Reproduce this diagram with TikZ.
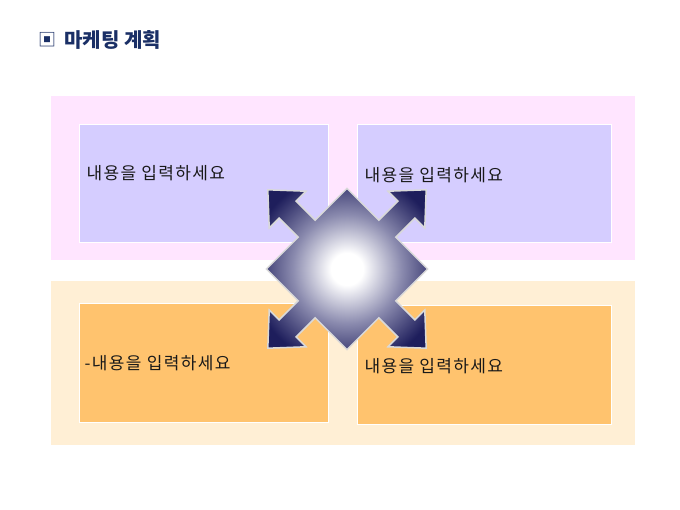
\documentclass[tikz,border=0pt]{standalone}
\usepackage{fontspec}
\setmainfont{Noto Sans CJK KR}
\newfontfamily\bodyfont[LetterSpace=8]{Noto Sans CJK KR}
\usetikzlibrary{positioning}
\definecolor{pinkband}{HTML}{FFE5FF}
\definecolor{creamband}{HTML}{FFEFD5}
\definecolor{lilacbox}{HTML}{D5CDFF}
\definecolor{orangebox}{HTML}{FFC36E}
\definecolor{titlenavy}{HTML}{1A2F66}
\definecolor{arrownavy}{HTML}{1E1E5C}
\definecolor{arrowmid}{HTML}{8A8AAE}
\pgfdeclareradialshading{quadshade}{\pgfpoint{0bp}{0bp}}{%
  color(0bp)=(white); color(5bp)=(white); color(17bp)=(arrowmid);
  color(30bp)=(arrownavy); color(50bp)=(arrownavy)}

\begin{document}
\begin{tikzpicture}[x=1pt,y=-1pt,
		band node/.style={rectangle,minimum width=584pt,minimum height=164pt,inner sep=0pt},
		box node/.style={rectangle,draw=white,line width=1pt,minimum height=118pt,inner sep=0pt},
		text node/.style={anchor=west,inner sep=0pt,text=black!90,font=\bodyfont\fontsize{17}{20}\selectfont}]
	\useasboundingbox[fill=white] (0,0) rectangle (680,510);
	\node[anchor=center,text=titlenavy,font=\fontsize{18}{18}\selectfont] (mark) at (47,40) {▣};
	\node[anchor=west,text=titlenavy,font=\fontsize{20}{22}\selectfont\bfseries] (title) at (61,40) {마케팅 계획};
	\node[band node,fill=pinkband] (top) at (343,178) {};
	\node[band node,fill=creamband] (bottom) at (343,363) {};
	\node[box node,fill=lilacbox,minimum width=249pt] (1) at (203.5,183.5) {};
	\node[box node,fill=lilacbox,minimum width=254pt] (2) at (484,183.5) {};
	\node[box node,fill=orangebox,minimum width=249pt] (3) at (203.5,363) {};
	\node[box node,fill=orangebox,minimum width=254pt] (4) at (484,365) {};
	\node[text node] (t1) at ([xshift=8pt,yshift=10pt]1.west) {내용을 입력하세요};
	\node[text node] (t2) at ([xshift=8pt,yshift=8pt]2.west) {내용을 입력하세요};
	\node[text node] (t3) at ([xshift=6pt,yshift=0pt]3.west) {-내용을 입력하세요};
	\node[text node] (t4) at ([xshift=8pt,yshift=-1pt]4.west) {내용을 입력하세요};
	% four-way arrow
	\begin{scope}[shift={(347,269)},rotate=45]
		\path[shading=quadshade,draw=black!15,line width=1.5pt,line join=miter]
			(57,12) -- (84,12) -- (84,26) -- (112,0) -- (84,-26) -- (84,-12) -- (57,-12) -- (57,-57)
			-- (12,-57) -- (12,-84) -- (26,-84) -- (0,-112) -- (-26,-84) -- (-12,-84) -- (-12,-57) -- (-57,-57)
			-- (-57,-12) -- (-84,-12) -- (-84,-26) -- (-112,0) -- (-84,26) -- (-84,12) -- (-57,12) -- (-57,57)
			-- (-12,57) -- (-12,84) -- (-26,84) -- (0,112) -- (26,84) -- (12,84) -- (12,57) -- (57,57) -- cycle;
	\end{scope}
\end{tikzpicture}
\end{document}
